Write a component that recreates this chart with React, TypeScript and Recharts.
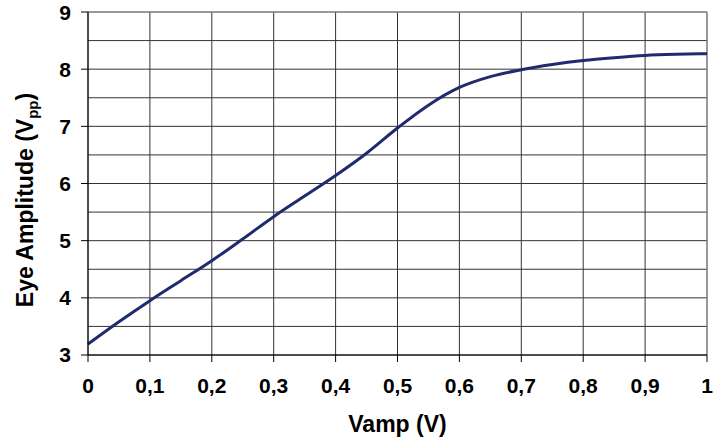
import React from 'react';
import {
  LineChart,
  Line,
  XAxis,
  YAxis,
  CartesianGrid,
  ReferenceLine,
} from 'recharts';

const vamp = [0, 0.05, 0.1, 0.15, 0.2, 0.25, 0.3, 0.35, 0.4, 0.45, 0.5, 0.55, 0.6, 0.65, 0.7, 0.75, 0.8, 0.85, 0.9, 0.95, 1];
const eyeAmplitude = [3.19, 3.58, 3.95, 4.3, 4.65, 5.03, 5.42, 5.78, 6.14, 6.53, 6.97, 7.37, 7.68, 7.87, 7.99, 8.08, 8.15, 8.2, 8.24, 8.26, 8.27];

const xTicks = [0, 0.1, 0.2, 0.3, 0.4, 0.5, 0.6, 0.7, 0.8, 0.9, 1];
const yTicks = [3, 4, 5, 6, 7, 8, 9];
const yGrid = [3, 3.5, 4, 4.5, 5, 5.5, 6, 6.5, 7, 7.5, 8, 8.5, 9];

const data = vamp.map((v, i) => ({ vamp: v, amp: eyeAmplitude[i] }));

const font = '"Liberation Sans", Arial, sans-serif';

const YTitle = () => (
  <text
    x={33}
    y={200}
    transform="rotate(-90 33 200)"
    textAnchor="middle"
    fontFamily={font}
    fontWeight="bold"
    fontSize={23}
    fill="#000"
  >
    Eye Amplitude (V
    <tspan fontSize={15} dy={5}>pp</tspan>
    <tspan dy={-5}>)</tspan>
  </text>
);

const XTitle = () => (
  <text
    x={397.5}
    y={431.5}
    textAnchor="middle"
    fontFamily={font}
    fontWeight="bold"
    fontSize={23}
    fill="#000"
  >
    Vamp (V)
  </text>
);

const tickStyle = { fontSize: 21, fill: '#000', fontFamily: font, fontWeight: 'bold' };

const App: React.FC = () => {
  return (
    <div style={{ position: 'absolute', left: 0, top: 0, width: 726, height: 441, background: '#fff' }}>
      <LineChart
        width={726}
        height={441}
        data={data}
        margin={{ top: 12, right: 19, bottom: 0, left: 0 }}
      >
        <CartesianGrid
          stroke="#333"
          strokeWidth={1}
          horizontalValues={yGrid}
          verticalValues={xTicks}
        />
        <ReferenceLine x={1} stroke="#999" />
        <ReferenceLine y={9} stroke="#999" />
        <XAxis
          dataKey="vamp"
          type="number"
          domain={[0, 1]}
          ticks={xTicks}
          tickFormatter={(v: number) => String(v).replace('.', ',')}
          tick={tickStyle}
          tickSize={7}
          tickMargin={16}
          stroke="#000"
          height={86}
          label={<XTitle />}
        />
        <YAxis
          type="number"
          domain={[3, 9]}
          ticks={yTicks}
          tick={tickStyle}
          tickSize={7}
          tickMargin={10}
          stroke="#000"
          width={88}
          label={<YTitle />}
        />
        <Line
          type="monotone"
          dataKey="amp"
          stroke="#1f2b6c"
          strokeWidth={3}
          dot={false}
          isAnimationActive={false}
        />
      </LineChart>
    </div>
  );
};

export default App;
